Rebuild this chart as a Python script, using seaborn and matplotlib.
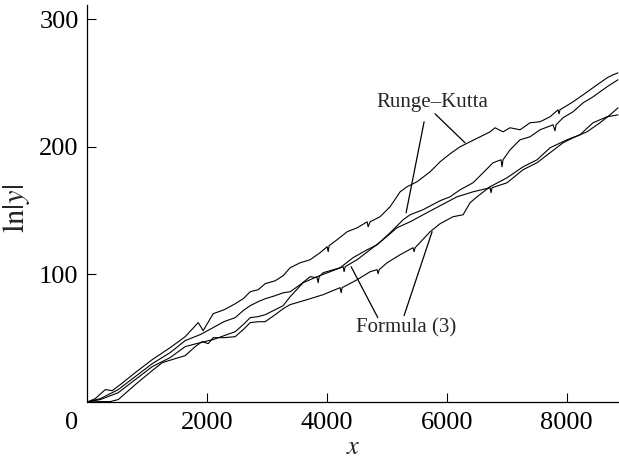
import numpy as np
import pandas as pd
import matplotlib
matplotlib.use("Agg")
import matplotlib.pyplot as plt
from matplotlib.transforms import ScaledTranslation
import seaborn as sns

# ln|y| along x for two Runge-Kutta runs and two runs of formula (3)
rk1_x = [22, 138, 305, 422, 555, 805, 1088, 1388, 1638, 1855, 1938, 2105, 2288, 2472, 2605,
         2722, 2855, 2972, 3138, 3272, 3388, 3555, 3722, 3888, 4005, 4022, 4038, 4172, 4338, 4505,
         4672, 4688, 4722, 4888, 5055, 5222, 5338, 5505, 5722, 5888, 6055, 6222, 6388, 6555, 6722,
         6805, 6938, 7055, 7222, 7388, 7555, 7722, 7855, 7872, 7888, 8105, 8272, 8505, 8672, 8772,
         8855]
rk1_y = [0.3, 2.6, 9.7, 8.9, 13.6, 23.0, 33.2, 42.6, 51.2, 62.2, 55.9, 69.2, 72.3, 77.0, 80.9,
         86.4, 88.0, 92.7, 95.0, 99.0, 105.2, 109.1, 111.5, 117.0, 121.7, 117.8, 122.5, 127.2, 133.4, 136.5,
         141.2, 137.3, 141.2, 145.2, 153.0, 164.7, 168.7, 172.6, 180.4, 188.2, 194.5, 200.0, 203.9, 207.8, 211.7,
         214.9, 211.7, 214.9, 213.3, 218.8, 219.6, 223.5, 229.0, 225.8, 229.0, 235.2, 240.7, 248.5, 254.0, 256.4,
         257.9]

rk2_x = [22, 222, 522, 805, 1088, 1388, 1638, 1888, 2105, 2288, 2472, 2605, 2722, 2855, 2972,
         3138, 3272, 3388, 3555, 3722, 3838, 3855, 3872, 3938, 4222, 4438, 4672, 4838, 5055, 5272,
         5388, 5605, 5888, 6055, 6222, 6438, 6605, 6772, 6905, 6922, 6938, 7055, 7222, 7388, 7555,
         7772, 7805, 7822, 7938, 8105, 8272, 8438, 8672, 8855]
rk2_y = [0.3, 2.6, 9.7, 19.9, 30.0, 38.7, 48.1, 52.8, 58.3, 63.0, 66.1, 71.6, 75.5, 78.6, 80.9,
         83.3, 85.6, 86.4, 91.9, 98.2, 97.4, 93.5, 98.2, 101.3, 105.2, 113.1, 119.3, 123.2, 132.6, 142.8,
         146.7, 150.7, 157.7, 160.8, 166.3, 171.8, 179.6, 187.5, 189.8, 184.3, 189.8, 197.6, 205.5, 207.8, 213.3,
         217.2, 212.5, 217.2, 222.7, 227.4, 234.4, 239.1, 247.0, 252.5]

f1_x = [22, 222, 522, 805, 1088, 1388, 1638, 1888, 2105, 2288, 2472, 2605, 2722, 2855, 2972,
        3138, 3272, 3388, 3605, 3838, 4055, 4272, 4288, 4305, 4505, 4722, 4938, 5172, 5388, 5605,
        5888, 6172, 6438, 6722, 6738, 6755, 7005, 7272, 7505, 7722, 7938, 8105, 8338, 8555, 8722,
        8855]
f1_y = [0.0, 1.9, 7.3, 17.5, 27.7, 34.8, 43.4, 46.5, 48.9, 52.0, 55.1, 60.6, 66.1, 66.9, 68.4,
        72.3, 75.5, 82.5, 93.5, 98.2, 102.1, 106.0, 102.1, 106.0, 111.5, 119.3, 127.2, 136.6, 141.2, 146.7,
        153.8, 160.8, 164.7, 167.9, 164.0, 167.9, 171.8, 182.0, 187.5, 195.3, 203.1, 207.0, 211.7, 218.8, 225.0,
        230.5]

f2_x = [22, 222, 388, 522, 805, 1088, 1255, 1522, 1638, 1805, 1922, 2022, 2105, 2288, 2472,
        2605, 2722, 2855, 2972, 3138, 3272, 3388, 3672, 3938, 4222, 4238, 4255, 4505, 4722, 4838,
        4855, 4872, 5005, 5222, 5438, 5455, 5472, 5722, 5888, 6105, 6272, 6388, 6505, 6722, 7005,
        7272, 7505, 7722, 8005, 8222, 8438, 8672, 8855]
f2_y = [0.0, 0.3, 0.3, 1.9, 13.6, 24.6, 30.8, 34.7, 36.3, 43.4, 47.3, 45.7, 50.4, 50.4, 51.2,
        56.7, 62.2, 62.9, 62.9, 68.4, 73.1, 76.3, 80.2, 84.1, 89.6, 85.6, 89.6, 95.8, 102.1, 103.7,
        100.5, 103.7, 109.1, 115.4, 120.9, 117.8, 120.9, 133.4, 139.7, 145.2, 146.7, 156.1, 160.8, 168.7, 175.7,
        184.3, 189.8, 199.2, 205.5, 209.4, 218.8, 223.5, 225.0]

x_ticks = [2000, 4000, 6000, 8000]
y_ticks = [100, 200, 300]

frames = []
for name, xs, ys in [("rk1", rk1_x, rk1_y), ("rk2", rk2_x, rk2_y),
                     ("f1", f1_x, f1_y), ("f2", f2_x, f2_y)]:
    frames.append(pd.DataFrame({"x": xs, "y": ys, "run": name}))
df = pd.concat(frames, ignore_index=True)

sns.set_theme(style="ticks")
plt.rcParams["font.family"] = ["Liberation Serif", "DejaVu Serif"]
plt.rcParams["mathtext.fontset"] = "stix"

fig = plt.figure(figsize=(6.19, 4.62), dpi=100)
ax = fig.add_axes([0.1405, 0.1299, 0.8595, 0.859])

sns.lineplot(data=df, x="x", y="y", units="run", estimator=None, sort=False,
             color="black", lw=0.8, ax=ax, legend=False)

ax.set_xlim(0, 8872)
ax.set_ylim(0, 311)
ax.set_xticks([0] + x_ticks)
ax.set_xticklabels(["0"] + [str(t) for t in x_ticks])
ax.set_yticks(y_ticks)
ax.set_yticklabels([str(t) for t in y_ticks])
ax.tick_params(direction="in", length=6.5, width=0.8, labelsize=19, pad=6, colors="black")
ax.tick_params(axis="x", pad=7)
for side in ("top", "right"):
    ax.spines[side].set_visible(False)
for side in ("left", "bottom"):
    ax.spines[side].set_linewidth(0.9)
    ax.spines[side].set_color("black")

# shift the origin label a little to the left of the corner
lab0 = ax.get_xticklabels()[0]
lab0.set_transform(lab0.get_transform() + ScaledTranslation(-0.15, 0, fig.dpi_scale_trans))
ax.get_xticklines()[0].set_visible(False)
ax.get_xticklines()[1].set_visible(False)

ax.set_xlabel("$x$", fontsize=19)
ax.set_ylabel(r"$\mathrm{ln}|y|$", fontsize=22)
ax.xaxis.set_label_coords(0.5, -0.088)
ax.yaxis.set_label_coords(-0.103, 0.489)

line_kw = dict(arrowstyle="-", lw=0.9, color="black", shrinkA=0, shrinkB=0)
ax.text(5767, 234.7, "Runge–Kutta", fontsize=15, ha="center", va="center")
ax.annotate("", xy=(5322, 148.3), xytext=(5622, 219.6), arrowprops=line_kw)
ax.annotate("", xy=(6305, 203.1), xytext=(5805, 225.8), arrowprops=line_kw)

ax.text(5322, 58.3, "Formula (3)", fontsize=15, ha="center", va="center")
ax.annotate("", xy=(4405, 106.0), xytext=(4850, 66.1), arrowprops=line_kw)
ax.annotate("", xy=(5755, 133.4), xytext=(5288, 67.7), arrowprops=line_kw)

fig.savefig("out.png", dpi=100)
